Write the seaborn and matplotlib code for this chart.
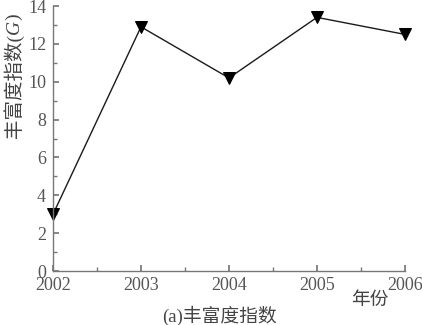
import matplotlib
matplotlib.use("Agg")
import matplotlib.pyplot as plt
import seaborn as sns
import pandas as pd
from matplotlib.ticker import MultipleLocator

years = [2002, 2003, 2004, 2005, 2006]
richness = [3.0, 12.9, 10.2, 13.4, 12.5]

sns.set_theme(style="ticks")
plt.rcParams['font.family'] = ['Liberation Serif', 'Noto Sans CJK SC']

df = pd.DataFrame({"year": years, "G": richness})

fig = plt.figure(figsize=(4.22, 3.25), dpi=100)
ax = fig.add_axes([0.1256, 0.166, 0.834, 0.8155])
sns.lineplot(data=df, x="year", y="G", ax=ax, color="#1a1a1a", linewidth=1.0,
             marker="v", markersize=9, markeredgecolor="black", markerfacecolor="black",
             clip_on=False)

ax.set_xlim(2002, 2006)
ax.set_ylim(0, 14)
ax.xaxis.set_minor_locator(MultipleLocator(0.5))
ax.yaxis.set_major_locator(MultipleLocator(2))
ax.yaxis.set_minor_locator(MultipleLocator(1))
ax.set_xticks(years)
ax.set_xticklabels([str(y) for y in years])

gray = "#777777"
for s in ["top", "right"]:
    ax.spines[s].set_visible(False)
for s in ["left", "bottom"]:
    ax.spines[s].set_color(gray)
    ax.spines[s].set_linewidth(1.0)
ax.tick_params(which="both", direction="in", color=gray, labelcolor="#555555", labelsize=13)
ax.tick_params(which="major", length=4)
ax.tick_params(which="minor", length=3)
ax.tick_params(axis="x", pad=4)
ax.tick_params(axis="y", pad=5)

ax.set_xlabel("")
ax.set_ylabel("")

# y label composed of pieces so that G is italic
txtc = "#444444"
fig.canvas.draw()
r = fig.canvas.get_renderer()
inv = fig.transFigure.inverted()
xlab = 0.033
y0 = 0.575
parts = [("丰富度指数(", "normal"), ("G", "italic"), (")", "normal")]
cur = y0
for s, st in parts:
    t = fig.text(xlab, cur, s, rotation=90, ha="center", va="bottom",
                 fontsize=14, color=txtc, fontstyle=st)
    bb = t.get_window_extent(r)
    h = inv.transform((0, bb.height))[1] - inv.transform((0, 0))[1]
    cur += h

fig.text(0.877, 0.075, "年份", fontsize=13.5, color=txtc, ha="center", va="center")
fig.text(0.519, 0.028, "(a)丰富度指数", fontsize=13.5, color=txtc, ha="center", va="center")

fig.savefig("out.png", dpi=100)
